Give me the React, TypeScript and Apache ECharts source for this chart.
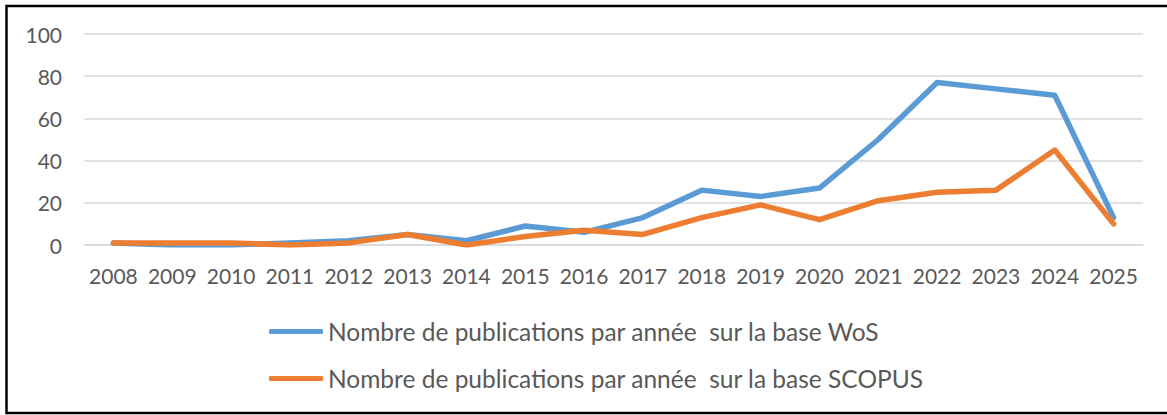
import React, { useEffect, useRef } from "react";
import * as echarts from "echarts";

const years = ["2008","2009","2010","2011","2012","2013","2014","2015","2016","2017","2018","2019","2020","2021","2022","2023","2024","2025"];
const wosValues = [1, 0, 0, 1, 2, 5, 2, 9, 6, 13, 26, 23, 27, 50, 77, 74, 71, 13];
const scopusValues = [1, 1, 1, 0, 1, 5, 0, 4, 7, 5, 13, 19, 12, 21, 25, 26, 45, 10];
const wosName = "Nombre de publications par année  sur la base WoS";
const scopusName = "Nombre de publications par année  sur la base SCOPUS";

export default function App() {
  const ref = useRef<HTMLDivElement>(null);
  useEffect(() => {
    if (!ref.current) return;
    const chart = echarts.init(ref.current, undefined, { renderer: "svg" });
    const font = "Lato, 'Open Sans', sans-serif";
    chart.setOption({
      animation: false,
      backgroundColor: "#ffffff",
      textStyle: { fontFamily: font },
      grid: { left: 84, right: 24, top: 34, bottom: 170 },
      xAxis: {
        type: "category",
        data: years,
        boundaryGap: true,
        axisLine: { show: true, lineStyle: { color: "#d9d9d9", width: 1.5 } },
        axisTick: { show: false },
        axisLabel: { color: "#595959", fontSize: 21, fontFamily: font, margin: 20, interval: 0 },
      },
      yAxis: {
        type: "value",
        min: 0,
        max: 100,
        interval: 20,
        axisLine: { show: false },
        axisTick: { show: false },
        axisLabel: { color: "#595959", fontSize: 21, fontFamily: font, margin: 22 },
        splitLine: { lineStyle: { color: "#d9d9d9", width: 1.5 } },
      },
      legend: {
        orient: "vertical",
        left: 264,
        top: 314,
        itemWidth: 54,
        itemHeight: 5,
        itemGap: 22,
        icon: "roundRect",
        textStyle: { color: "#595959", fontSize: 24.5, fontFamily: font },
        data: [wosName, scopusName],
      },
      graphic: [
        {
          type: "rect",
          shape: { x: 6.5, y: 6, width: 1175, height: 407 },
          style: { fill: "none", stroke: "#000000", lineWidth: 2.5 },
          silent: true,
        },
      ],
      series: [
        {
          name: wosName,
          type: "line",
          data: wosValues,
          showSymbol: false,
          symbol: "none",
          lineStyle: { color: "#5B9BD5", width: 5.5, cap: "round", join: "round" },
          itemStyle: { color: "#5B9BD5" },
        },
        {
          name: scopusName,
          type: "line",
          data: scopusValues,
          showSymbol: false,
          symbol: "none",
          lineStyle: { color: "#ED7D31", width: 5.5, cap: "round", join: "round" },
          itemStyle: { color: "#ED7D31" },
        },
      ],
    });
    return () => chart.dispose();
  }, []);
  return (
    <div
      ref={ref}
      style={{ position: "fixed", left: 0, top: 0, width: 1167, height: 415 }}
    />
  );
}
